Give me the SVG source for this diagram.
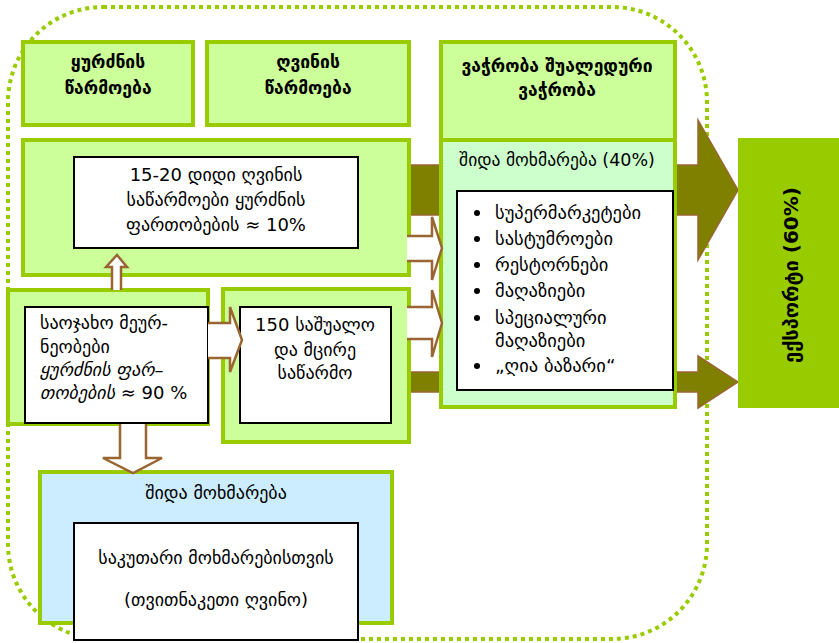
<svg xmlns="http://www.w3.org/2000/svg" width="839" height="643" viewBox="0 0 839 643">
  <style>
    .frame { fill: none; stroke: #99CC00; stroke-width: 4; stroke-dasharray: 4 4; }
    .gbox { fill: #CCFF99; stroke: #99CC00; stroke-width: 4; }
    .mint { fill: #CCFFCC; stroke: #99CC00; stroke-width: 4; }
    .sky { fill: #CCECFF; stroke: #99CC00; stroke-width: 4; }
    .wbox { fill: #FFFFFF; stroke: #000000; stroke-width: 2; }
    .export { fill: #99CC00; }
    .bigarrow { fill: #808000; stroke: #996633; stroke-width: 1.5; }
    .hollow { fill: #FFFFFF; stroke: #996633; stroke-width: 2.5; stroke-linejoin: miter; }
    text { font-family: "DejaVu Sans", "Liberation Sans", sans-serif; font-size: 18px; fill: #000000; }
    .b { font-weight: bold; font-size: 17.5px; }
    .c { text-anchor: middle; }
    .i { font-style: italic; }
    .li { font-size: 18.5px; }
    .ex { font-weight: bold; font-size: 20px; }
  </style>

  <!-- dotted boundary of the domestic sector -->
  <rect class="frame" x="8" y="7" width="699" height="632" rx="95" ry="95"/>

  <!-- connectors -->
  <g id="connectors">
    <!-- olive flows to export -->
    <path class="bigarrow" d="M300,165 H698 V120 L738,190 L698,260 V215 H300 Z"/>
    <path class="bigarrow" d="M300,372 H698 V356 L738,382 L698,408 V392 H300 Z"/>
  </g>

  <g id="n-grape">
    <rect class="gbox" x="23" y="42" width="170" height="83"/>
    <text class="b c" x="108" y="68">ყურძნის</text>
    <text class="b c" x="108" y="94">წარმოება</text>
  </g>

  <g id="n-wine">
    <rect class="gbox" x="207" y="42" width="202" height="83"/>
    <text class="b c" x="308" y="68">ღვინის</text>
    <text class="b c" x="308" y="94">წარმოება</text>
  </g>

  <g id="n-trade">
    <rect class="mint" x="441" y="140" width="234" height="267"/>
    <rect class="gbox" x="441" y="42" width="234" height="98"/>
    <text class="b c" x="557" y="72">ვაჭრობა შუალედური</text>
    <text class="b c" x="557" y="96">ვაჭრობა</text>
    <text class="c" x="557" y="166" style="font-size:17.5px">შიდა მოხმარება (40%)</text>
    <rect class="wbox" x="457" y="191" width="216" height="199"/>
    <g>
      <circle cx="477" cy="213" r="3"/>
      <circle cx="477" cy="239" r="3"/>
      <circle cx="477" cy="265" r="3"/>
      <circle cx="477" cy="291" r="3"/>
      <circle cx="477" cy="318" r="3"/>
      <circle cx="477" cy="366" r="3"/>
    </g>
    <text class="li" x="495" y="219">სუპერმარკეტები</text>
    <text class="li" x="495" y="245">სასტუმროები</text>
    <text class="li" x="495" y="271">რესტორნები</text>
    <text class="li" x="495" y="297">მაღაზიები</text>
    <text class="li" x="495" y="324">სპეციალური</text>
    <text class="li" x="495" y="347">მაღაზიები</text>
    <text class="li" x="495" y="372">„ღია ბაზარი“</text>
  </g>

  <g id="n-large">
    <rect class="gbox" x="23" y="140" width="386" height="135"/>
    <rect class="wbox" x="74" y="157" width="284" height="91"/>
    <text class="c" x="216" y="181">15-20 დიდი ღვინის</text>
    <text class="c" x="216" y="206">საწარმოები ყურძნის</text>
    <text class="c" x="216" y="231">ფართობების ≈ 10%</text>
  </g>

  <g id="n-household">
    <rect class="gbox" x="8" y="290" width="200" height="134"/>
    <rect class="wbox" x="25" y="307" width="183" height="116"/>
    <text x="40" y="329">საოჯახო მეურ-</text>
    <text x="40" y="353">ნეობები</text>
    <text class="i" x="40" y="376">ყურძნის ფარ–</text>
    <text x="40" y="399"><tspan class="i">თობების</tspan> ≈ 90 %</text>
  </g>

  <g id="n-medium">
    <rect class="gbox" x="223" y="289" width="186" height="153"/>
    <rect class="wbox" x="240" y="307" width="151" height="116"/>
    <text class="c" x="315" y="331">150 საშუალო</text>
    <text class="c" x="315" y="356">და მცირე</text>
    <text class="c" x="315" y="379">საწარმო</text>
  </g>

  <g id="n-own">
    <rect class="sky" x="40" y="472" width="352" height="151"/>
    <text class="c" x="216" y="499">შიდა მოხმარება</text>
    <rect class="wbox" x="74" y="523" width="284" height="117"/>
    <text class="c" x="216" y="564">საკუთარი მოხმარებისთვის</text>
    <text class="c" x="216" y="606">(თვითნაკეთი ღვინო)</text>
  </g>

  <g id="n-export">
    <rect class="export" x="738" y="138" width="101" height="270"/>
    <text class="ex c" transform="translate(798,275) rotate(-90)">ექსპორტი (60%)</text>
  </g>

  <!-- hollow flow arrows -->
  <g id="flows">
    <path class="hollow" d="M407,236 H432 V217 L442,248 L432,280 V261 H407"/>
    <path class="hollow" d="M407,307 H432 V290 L442,323 L432,357 V339 H407"/>
    <path class="hollow" d="M208,323 H230 V307 L242,340 L230,372 V358 H208"/>
    <path class="hollow" d="M112,290 V267 H106 L117,255 L127,267 H121 V290"/>
    <path class="hollow" d="M120,424 V458 H103 L133,473 L162,458 H146 V424"/>
  </g>
</svg>
